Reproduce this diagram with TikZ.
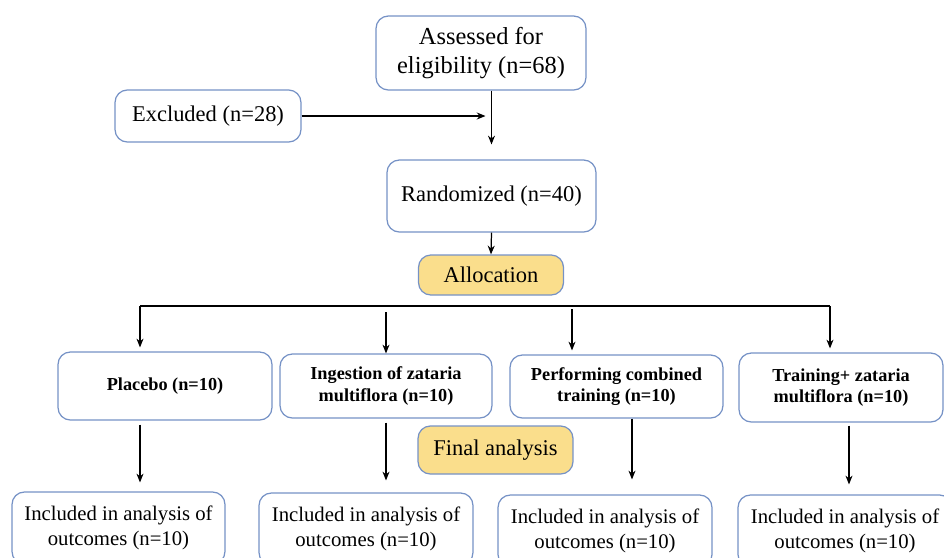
\documentclass[tikz,border=0pt]{standalone}
\usepackage{fontspec}
\setmainfont{Liberation Serif}
\usetikzlibrary{arrows.meta,calc}
\definecolor{boxblue}{RGB}{118,146,198}
\definecolor{tagyellow}{RGB}{250,222,140}
\newcommand{\bigtxt}{\fontsize{13.9}{17}\selectfont}
\newcommand{\midtxt}{\fontsize{12.8}{15}\selectfont}
\newcommand{\armtxt}{\fontsize{10.4}{12}\selectfont\bfseries}
\newcommand{\outtxt}{\fontsize{11.8}{14.2}\selectfont}
\begin{document}
\begin{tikzpicture}[x=0.02cm, y=-0.02cm,
    box/.style={draw=boxblue, rounded corners=7pt, line width=0.7pt, align=center, inner sep=0pt, fill=white},
    tag/.style={box, fill=tagyellow},
    arr/.style={-{Stealth[length=5pt,width=4pt]}, line width=0.7pt}]
    \path[use as bounding box] (0,0) rectangle (944,558);
    \clip (0,0) rectangle (944,558);

    % Enrolment
    \node[box, minimum width=4.2cm, minimum height=1.48cm, font=\bigtxt] (assess) at (481,53) {Assessed for\\eligibility (n=68)};
    \node[box, minimum width=3.72cm, minimum height=1.04cm, font=\midtxt] (excl) at (208,116) {Excluded (n=28)};
    \node[box, minimum width=4.18cm, minimum height=1.44cm, font=\midtxt] (rand) at (491.5,196) {Randomized (n=40)};
    \node[tag, minimum width=2.9cm, minimum height=0.8cm, font=\midtxt] (alloc) at (491,275) {Allocation};

    % Groups
    \node[box, minimum width=4.28cm, minimum height=1.36cm, font=\armtxt] (placebo) at (165,386) {Placebo (n=10)};
    \node[box, minimum width=4.24cm, minimum height=1.28cm, font=\armtxt] (ingest) at (386,386) {Ingestion of zataria\\multiflora (n=10)};
    \node[box, minimum width=4.26cm, minimum height=1.26cm, font=\armtxt] (perf) at (616.5,386.5) {Performing combined\\training (n=10)};
    \node[box, minimum width=4.08cm, minimum height=1.38cm, font=\armtxt] (train) at (841,387.5) {Training+ zataria\\multiflora (n=10)};

    % Analysis
    \node[tag, minimum width=3.1cm, minimum height=0.96cm, font=\midtxt] (final) at (495.5,450) {Final analysis};
    \node[box, minimum width=4.26cm, minimum height=1.44cm, font=\outtxt] (inc1) at (118.5,528) {Included in analysis of\\outcomes (n=10)};
    \node[box, minimum width=4.28cm, minimum height=1.44cm, font=\outtxt] (inc2) at (366,529) {Included in analysis of\\outcomes (n=10)};
    \node[box, minimum width=4.28cm, minimum height=1.44cm, font=\outtxt] (inc3) at (605,531) {Included in analysis of\\outcomes (n=10)};
    \node[box, minimum width=4.28cm, minimum height=1.44cm, font=\outtxt] (inc4) at (845,531) {Included in analysis of\\outcomes (n=10)};

    % Top connectors
    \draw[arr] (assess.south -| rand.north) -- ([yshift=0.3cm]rand.north);
    \draw[arr] (excl.east) -- ([xshift=-0.12cm]excl.east -| rand.north);
    \draw[arr] (rand.south) -- (alloc.north);

    % Split to groups
    \coordinate (bl) at (140,306);
    \coordinate (bm) at (572,306);
    \coordinate (br) at (830,306);
    \draw[line width=0.7pt] (bl) -- (br);
    \draw[arr] (bl) -- ([yshift=0.08cm]bl |- placebo.north);
    \draw[arr] ([yshift=-0.12cm]ingest.north |- bl) -- (ingest.north);
    \draw[arr] ([yshift=-0.06cm]bm) -- ([yshift=0.08cm]bm |- perf.north);
    \draw[arr] (br) -- ([yshift=0.08cm]br |- train.north);

    % Down to analysis
    \draw[arr] ([yshift=-0.08cm]placebo.south -| bl) -- ([yshift=0.18cm]inc1.north -| bl);
    \draw[arr] ([yshift=-0.08cm]ingest.south) -- ([yshift=0.24cm]ingest.south |- inc2.north);
    \draw[arr] ([xshift=0.31cm]perf.south) -- ([xshift=0.31cm, yshift=0.3cm]perf.south |- inc3.north);
    \draw[arr] ([xshift=0.16cm, yshift=-0.06cm]train.south) -- ([xshift=0.16cm, yshift=0.2cm]train.south |- inc4.north);
\end{tikzpicture}
\end{document}
